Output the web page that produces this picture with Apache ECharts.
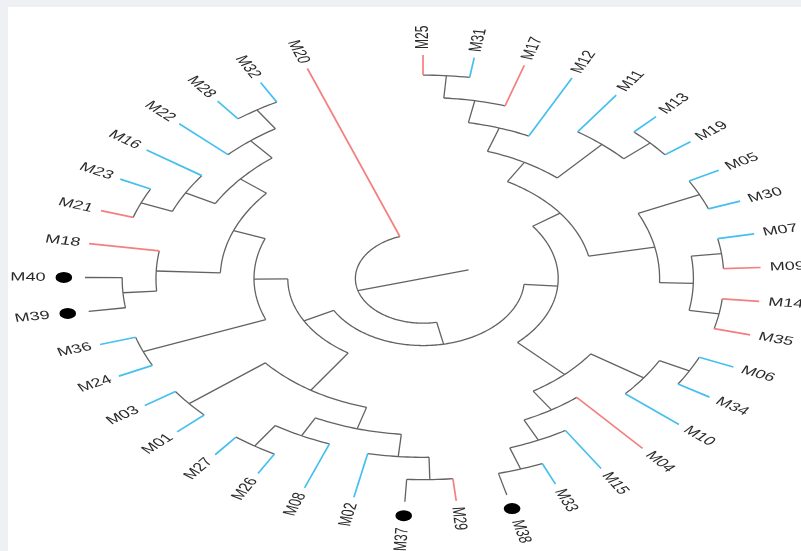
<!DOCTYPE html>
<html>
<head>
<meta charset="utf-8">
<script src="https://cdn.jsdelivr.net/npm/echarts@6/dist/echarts.min.js"></script>
<style>
html,body{margin:0;padding:0;background:#eef0f3;overflow:hidden;}
#chart-tree{position:absolute;left:8px;top:7px;width:793px;height:544px;background:#fff;}
</style>
</head>
<body>
<div id="chart-tree"></div>
<script>
// tips, clockwise from the top
var leafNames = ['M25','M31','M17','M12','M11','M13','M19','M05','M30','M07',
	'M09','M14','M35','M06','M34','M10','M04','M15','M33','M38',
	'M29','M37','M02','M08','M26','M27','M01','M03','M24','M36',
	'M39','M40','M18','M21','M23','M16','M22','M28','M32','M20'];
// r = red, b = blue, k = grey branch with black dot
var leafGroup = ['r','b','r','b','b','b','b','b','b','b',
	'r','r','r','b','b','b','r','b','b','k',
	'r','k','b','b','b','b','b','b','b','b',
	'k','k','r','r','b','b','b','b','b','r'];

// internal nodes: children (in tip order) and distance from centre (tips = 1)
var nodeIds = ['Z','H','D','A5','A4','A3','A2','A1','B1','B2',
	'C','C1','C2','C3','C4','E','F','F1','G','G1',
	'G2','I','K','K2','K5','K6','K3','K4','K1','J',
	'M','L','N','N1','O','Q','P','R','S'];
var nodeKids = [['H','M20'],['D','I'],['A5','E'],['A4','C'],['A3','B1'],['A2','M12'],['A1','M17'],['M25','M31'],['M11','B2'],['M13','M19'],
	['C1','C2'],['M05','M30'],['C3','C4'],['M07','M09'],['M14','M35'],['F','G'],['F1','M10'],['M06','M34'],['M04','G1'],['M15','G2'],
	['M33','M38'],['K','J'],['K2','K1'],['K5','K3'],['K6','M02'],['M29','M37'],['M08','K4'],['M26','M27'],['M01','M03'],['M','L'],
	['M24','M36'],['N','O'],['N1','M18'],['M39','M40'],['Q','R'],['P','M16'],['M21','M23'],['M22','S'],['M28','M32']];
var nodeDepth = [0.20,0.30,0.40,0.50,0.60,0.71,0.81,0.91,0.80,0.905,
	0.70,0.90,0.80,0.89,0.89,0.60,0.79,0.89,0.70,0.80,
	0.90,0.40,0.60,0.70,0.80,0.90,0.79,0.90,0.89,0.50,
	0.89,0.60,0.79,0.89,0.70,0.80,0.90,0.80,0.90];

var leafSpan = 340;   // degrees between first and last tip
var rootEdge = 0.14;

var chartTree = echarts.init(document.getElementById('chart-tree'));

var angleOf = {};
var step = leafSpan / (leafNames.length - 1);
leafNames.forEach((n, i) => { angleOf[n] = i * step; });
function place(id) {
	if (angleOf[id] !== undefined) return angleOf[id];
	var kids = nodeKids[nodeIds.indexOf(id)];
	angleOf[id] = (place(kids[0]) + place(kids[1])) / 2;
	return angleOf[id];
}
place(nodeIds[0]);

function toXY(r, deg) {
	var t = deg * Math.PI / 180;
	return [r * Math.sin(t), r * Math.cos(t)];
}

var GREY = '#626262';
function leafColor(i) {
	if (leafGroup[i] === 'r') return '#f47f7f';
	if (leafGroup[i] === 'b') return '#45bfee';
	return GREY;
}

function renderNode(params, api) {
	var k = api.value(0);
	var r = nodeDepth[k], kids = nodeKids[k];
	var a0 = angleOf[kids[0]], a1 = angleOf[kids[1]];
	var n = Math.max(2, Math.ceil(Math.abs(a1 - a0)));
	var pts = [];
	for (var i = 0; i <= n; i++) pts.push(api.coord(toXY(r, a0 + (a1 - a0) * i / n)));
	var els = [{type: 'polyline', shape: {points: pts}, style: {stroke: GREY, lineWidth: 1.3, fill: null}}];
	kids.forEach((c) => {
		var li = leafNames.indexOf(c);
		var cr = li >= 0 ? 1 : nodeDepth[nodeIds.indexOf(c)];
		var p0 = api.coord(toXY(r, angleOf[c]));
		var p1 = api.coord(toXY(cr, angleOf[c]));
		var col = li >= 0 ? leafColor(li) : GREY;
		els.push({type: 'line', shape: {x1: p0[0], y1: p0[1], x2: p1[0], y2: p1[1]},
			style: {stroke: col, lineWidth: col === GREY ? 1.3 : 1.7}});
	});
	if (k === 0) {
		var a = angleOf[nodeIds[0]];
		var q0 = api.coord(toXY(r, a));
		var q1 = api.coord(toXY(rootEdge, a + 180));
		els.push({type: 'line', shape: {x1: q0[0], y1: q0[1], x2: q1[0], y2: q1[1]},
			style: {stroke: GREY, lineWidth: 1.3}});
	}
	return {type: 'group', children: els};
}

function renderLeaf(params, api) {
	var i = api.value(0);
	var a = angleOf[leafNames[i]];
	var tip = api.coord(toXY(1, a));
	var o = api.coord([0, 0]), ex = api.coord([1, 0]), ey = api.coord([0, 1]);
	var sx = (ex[0] - o[0]) / (o[1] - ey[1]);
	var t = a * Math.PI / 180;
	var dot = leafGroup[i] === 'k';
	var d = dot ? 26 : 6;
	var right = a < 180;
	var rot = (right ? 90 - a : 270 - a) * Math.PI / 180;
	var els = [{
		type: 'text', x: d * Math.sin(t), y: -d * Math.cos(t), rotation: rot,
		style: {text: leafNames[i], align: right ? 'left' : 'right', verticalAlign: 'middle',
			fill: '#2a2a2a', font: '12px "Liberation Sans", Arial, sans-serif'}
	}];
	if (dot) {
		els.push({type: 'circle', shape: {cx: 14 * Math.sin(t), cy: -14 * Math.cos(t), r: 5.5}, style: {fill: '#000'}});
	}
	return {type: 'group', x: tip[0], y: tip[1], scaleX: sx, children: els};
}

chartTree.setOption({
	animation: false,
	grid: {left: 77, top: 48, width: 676, height: 447},
	xAxis: {type: 'value', min: -1, max: 1, show: false},
	yAxis: {type: 'value', min: -1, max: 1, show: false},
	series: [{
		type: 'custom',
		renderItem: renderNode,
		data: nodeIds.map((id, k) => [k]),
		silent: true
	}, {
		type: 'custom',
		renderItem: renderLeaf,
		data: leafNames.map((id, i) => [i]),
		silent: true
	}]
});
</script>
</body>
</html>
